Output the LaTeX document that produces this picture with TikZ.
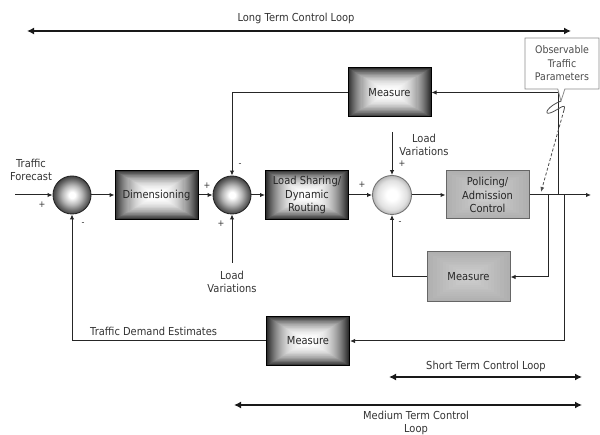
\documentclass[tikz,border=0pt]{standalone}
\usepackage{fontspec}
\setmainfont{DejaVu Sans}[FakeStretch=0.9]
\usetikzlibrary{arrows.meta,calc,shapes.callouts}

% ball shadings for the summing junctions (the inner 25bp maps onto the circle)
\pgfdeclareradialshading{sumdarkshade}{\pgfpoint{0bp}{0bp}}{color(0bp)=(white); color(4bp)=(white); color(13bp)=(black!28); color(21bp)=(black!60); color(25bp)=(black!74); color(50bp)=(black!74)}
\pgfdeclareradialshading{sumlightshade}{\pgfpoint{0bp}{0bp}}{color(0bp)=(white); color(7bp)=(white); color(19bp)=(black!12); color(25bp)=(black!28); color(50bp)=(black!28)}

\begin{document}
\begin{tikzpicture}[x=1pt,y=-1pt,
  font=\fontsize{11}{13.5}\selectfont,
  sumdark/.style={circle, draw=black!85, line width=0.9pt, minimum size=38pt, inner sep=0pt, shading=sumdarkshade},
  sumlight/.style={circle, draw=black!55, line width=0.9pt, minimum size=39pt, inner sep=0pt, shading=sumlightshade},
  darkbox/.style={draw=black, line width=1pt, minimum width=83pt, minimum height=49pt,
    inner sep=1pt, align=center, text=black!85,
    path picture={
      \foreach \k in {0,...,39}{
        \pgfmathsetmacro\insetf{\k/80}
        \pgfmathsetmacro\graylev{82*(1-\k/40)^2.3}
        \fill[black!\graylev]
          ($(path picture bounding box.south west)!\insetf!(path picture bounding box.north east)$)
          rectangle
          ($(path picture bounding box.north east)!\insetf!(path picture bounding box.south west)$);
      }
    }},
  lightbox/.style={draw=black!60, line width=1pt, minimum width=83pt, minimum height=48pt,
    inner sep=1pt, align=center, text=black!85,
    path picture={
      \foreach \k in {0,...,12}{
        \pgfmathsetmacro\insetf{\k/26}
        \pgfmathsetmacro\graylev{31-12*\k/12}
        \fill[black!\graylev]
          ($(path picture bounding box.south west)!\insetf!(path picture bounding box.north east)$)
          rectangle
          ($(path picture bounding box.north east)!\insetf!(path picture bounding box.south west)$);
      }
    }},
  wire/.style={line width=1pt, draw=black!85},
  arr/.style={wire, -{Latex[length=5pt,width=4.5pt]}},
  span/.style={line width=2.4pt, draw=black!90, {Latex[length=7pt,width=7pt]}-{Latex[length=7pt,width=7pt]}},
  sign/.style={font=\fontsize{9}{9}\selectfont, inner sep=0pt, text=black!80},
  lbl/.style={align=center, inner sep=0pt, text=black!80}
]
\useasboundingbox (0,0) rectangle (600,435);

% loop extents
\coordinate (lt1) at (27,31);
\coordinate (lt2) at (571,31);
\draw[span] (lt1) -- (lt2);
\node[lbl] (ltl) at (296,18) {Long Term Control Loop};

\coordinate (st1) at (389,377);
\coordinate (st2) at (582,377);
\draw[span] (st1) -- (st2);
\node[lbl] (stl) at (486,366) {Short Term Control Loop};

\coordinate (mt1) at (234,405);
\coordinate (mt2) at (582,405);
\draw[span] (mt1) -- (mt2);
\node[lbl] (mtl) at (416,423) {Medium Term Control\\Loop};

% forward path
\node[sumdark] (c1) at (72,195) {};
\node[darkbox] (dim) at (156.5,195) {Dimensioning};
\node[sumdark] (c2) at (232,195) {};
\node[darkbox] (lsd) at (307,195) {Load Sharing/\\Dynamic\\Routing};
\node[sumlight] (c3) at (392,195) {};
\node[lightbox] (pol) at (487.5,195) {Policing/\\Admission\\Control};

% measurement blocks
\node[darkbox] (m1) at (389.5,92.5) {Measure};
\node[lightbox, minimum height=50pt] (m2) at (468.5,277) {Measure};
\node[darkbox] (m3) at (308,341) {Measure};

% free ends and taps
\coordinate (in) at (15,195);
\coordinate (out) at (591,195);
\coordinate (tm) at (548,195);
\coordinate (tt) at (558,195);
\coordinate (tb) at (564,195);
\coordinate (lvA) at (232,263);
\coordinate (lvB) at (392,132);

\draw[arr] (in) -- (c1);
\draw[arr] (c1) -- (dim);
\draw[arr] (dim) -- (c2);
\draw[arr] (c2) -- (lsd);
\draw[arr] (lsd) -- (c3);
\draw[arr] (c3) -- (pol);
\draw[arr] (pol) -- (out);

\draw[arr] (tt) |- (m1);
\draw[arr] (m1) -| (c2);
\draw[arr] (tm) |- (m2);
\draw[arr] (m2) -| (c3);
\draw[arr] (tb) |- (m3);
\draw[arr] (m3) -| (c1);

\draw[arr] (lvA) -- (c2);
\draw[arr] (lvB) -- (c3);

% labels
\node[lbl] (tf) at (31,170) {Traffic\\Forecast};
\node[lbl] (lvtxtA) at (232,282) {Load\\Variations};
\node[lbl] (lvtxtB) at (424,145) {Load\\Variations};
\node[lbl, anchor=west] (tde) at (90,331) {Traffic Demand Estimates};

% signs at the junctions
\node[sign] (s1) at (42,205) {+};
\node[sign] (s2) at (83,224) {-};
\node[sign] (s3) at (207,186) {+};
\node[sign] (s4) at (240,165) {-};
\node[sign] (s5) at (221,224) {+};
\node[sign] (s6) at (362,185) {+};
\node[sign] (s7) at (402,164) {+};
\node[sign] (s8) at (400,223) {-};

% observable traffic parameters callout
\node[rectangle callout, draw=black!45, line width=0.8pt, fill=white,
      callout absolute pointer={(561,101)}, minimum width=74pt, minimum height=51pt,
      inner sep=1pt, align=center, text=black!70,
      font=\fontsize{10.5}{13.5}\selectfont] (obs) at (562,63.5) {Observable\\Traffic\\Parameters};
\coordinate (curl) at (561,101);
\coordinate (tip) at (541,192);
\draw[line width=0.8pt, black!70] (curl) .. controls (548,106) and (543,115) .. (550,113)
  .. controls (557,111) and (567,101) .. (564,110);
\draw[line width=0.8pt, black!70, densely dashed, -{Latex[length=5pt,width=4pt]}] (564,110) -- (tip);

\end{tikzpicture}
\end{document}
